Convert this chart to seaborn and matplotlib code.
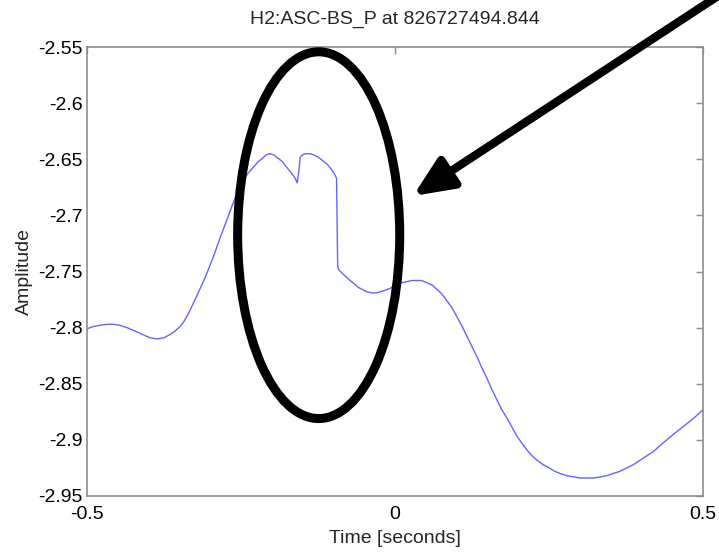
import matplotlib
matplotlib.use("Agg")
import matplotlib.pyplot as plt
import seaborn as sns
import pandas as pd
from matplotlib.patches import Ellipse

# ---- data ----
time_s = [-0.500, -0.490, -0.480, -0.468, -0.457, -0.446, -0.435, -0.422, -0.410,
          -0.398, -0.386, -0.375, -0.365, -0.357, -0.349, -0.342, -0.335,
          -0.322, -0.308, -0.295, -0.284, -0.273, -0.265, -0.258, -0.246, -0.238,
          -0.230, -0.222, -0.215, -0.209, -0.203, -0.197, -0.190, -0.183, -0.176,
          -0.170, -0.166, -0.162, -0.159, -0.156, -0.154, -0.150, -0.146, -0.142,
          -0.138, -0.132, -0.125, -0.118, -0.111, -0.106, -0.102, -0.0975, -0.0950,
          -0.0932, -0.0920, -0.085, -0.079, -0.073, -0.066,
          -0.060, -0.053, -0.046, -0.038, -0.030, -0.018, -0.008, 0.003, 0.011,
          0.019, 0.027, 0.035, 0.043, 0.052, 0.060,
          0.068, 0.076, 0.084, 0.092, 0.100, 0.108, 0.116, 0.124, 0.133, 0.141,
          0.149, 0.157, 0.165, 0.173, 0.182, 0.190, 0.198, 0.206, 0.214, 0.222,
          0.230, 0.240, 0.250, 0.259, 0.268, 0.279, 0.290, 0.300, 0.311, 0.322,
          0.333, 0.343, 0.354, 0.365, 0.376, 0.387, 0.398, 0.409, 0.420, 0.430,
          0.441, 0.454, 0.468, 0.484, 0.500]
amplitude = [-2.801, -2.799, -2.798, -2.797, -2.797, -2.798, -2.800, -2.803, -2.806,
             -2.809, -2.810, -2.809, -2.806, -2.803, -2.799, -2.794, -2.787,
             -2.772, -2.755, -2.737, -2.720, -2.704, -2.692, -2.682, -2.668, -2.662,
             -2.657, -2.652, -2.649, -2.646, -2.645, -2.646, -2.649, -2.652, -2.657,
             -2.661, -2.664, -2.667, -2.671, -2.660, -2.648, -2.646, -2.645, -2.645,
             -2.645, -2.646, -2.648, -2.651, -2.654, -2.657, -2.660, -2.664, -2.667,
             -2.745, -2.748, -2.752, -2.755, -2.758, -2.761,
             -2.764, -2.766, -2.768, -2.769, -2.769, -2.767, -2.765, -2.761, -2.760,
             -2.759, -2.758, -2.758, -2.758, -2.760, -2.762,
             -2.766, -2.770, -2.776, -2.782, -2.790, -2.798, -2.807, -2.816, -2.826, -2.836,
             -2.845, -2.855, -2.864, -2.873, -2.881, -2.889, -2.897, -2.903, -2.909, -2.914,
             -2.918, -2.922, -2.925, -2.928, -2.930, -2.932, -2.933, -2.934, -2.934, -2.934,
             -2.933, -2.932, -2.930, -2.928, -2.925, -2.922, -2.918, -2.914, -2.910, -2.905,
             -2.900, -2.894, -2.888, -2.881, -2.873]

x_ticks = [-0.5, 0, 0.5]
x_tick_labels = ["-0.5", "0", "0.5"]
y_ticks = [-2.95, -2.9, -2.85, -2.8, -2.75, -2.7, -2.65, -2.6, -2.55]
y_tick_labels = ["-2.95", "-2.9", "-2.85", "-2.8", "-2.75", "-2.7", "-2.65", "-2.6", "-2.55"]

title = "H2:ASC-BS_P at 826727494.844"
x_label = "Time [seconds]"
y_label = "Amplitude"

# ---- style ----
sns.set_theme(style="white")
plt.rcParams["font.family"] = ["Liberation Sans", "DejaVu Sans"]

fig = plt.figure(figsize=(7.19, 5.54), dpi=100)
ax = fig.add_axes([0.121, 0.1047, 0.857, 0.8103])

df = pd.DataFrame({"t": time_s, "amp": amplitude})
sns.lineplot(data=df, x="t", y="amp", ax=ax, color="#6464ff", linewidth=1.0,
             estimator=None, sort=False)

ax.set_xlim(-0.5, 0.5)
ax.set_ylim(-2.95, -2.55)
ax.set_xticks(x_ticks)
ax.set_xticklabels(x_tick_labels)
ax.set_yticks(y_ticks)
ax.set_yticklabels(y_tick_labels)

for s in ax.spines.values():
    s.set_color("#8c8c8c")
    s.set_linewidth(1.2)
ax.tick_params(axis="both", direction="in", top=True, right=True, length=5, width=1.0,
               color="#8c8c8c", labelsize=14, labelcolor="black")
ax.tick_params(axis="x", pad=7)
ax.tick_params(axis="y", pad=3)

ax.set_title(title, fontsize=14, pad=17)
ax.set_xlabel(x_label, fontsize=14, labelpad=5)
ax.set_ylabel(y_label, fontsize=14, labelpad=4)

# ---- annotation: ellipse and arrow ----
ell = Ellipse((0.376, 0.581), 0.263, 0.817, transform=ax.transAxes,
              fill=False, edgecolor="black", linewidth=6.5, clip_on=False, zorder=5)
ax.add_patch(ell)

ax.annotate("", xy=(413, 554 - 196), xycoords="figure pixels",
            xytext=(718, 554 + 4), textcoords="figure pixels",
            arrowprops=dict(arrowstyle="-|>,head_length=1.7,head_width=0.75",
                            mutation_scale=14, lw=6, color="black",
                            shrinkA=0, shrinkB=0),
            annotation_clip=False)

fig.savefig("out.png", dpi=100)
